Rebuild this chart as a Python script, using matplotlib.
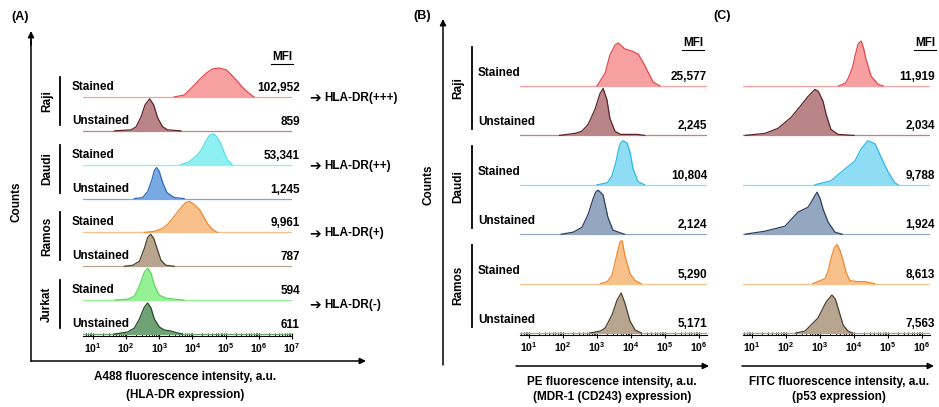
import numpy as np
import matplotlib
matplotlib.use('Agg')
import matplotlib.pyplot as plt
from matplotlib.lines import Line2D
from matplotlib.patches import FancyArrowPatch
from matplotlib.ticker import LogLocator, NullFormatter

plt.rcParams['font.family'] = ['Liberation Sans', 'DejaVu Sans']
plt.rcParams['font.weight'] = 'bold'
plt.rcParams['mathtext.fontset'] = 'custom'
plt.rcParams['mathtext.rm'] = 'Liberation Sans:bold'
plt.rcParams['mathtext.bf'] = 'Liberation Sans:bold'
plt.rcParams['mathtext.it'] = 'Liberation Sans:bold'

W, H = 939, 407
FS = 8.5

# histogram curves: (log10 intensity, relative counts)

# ---- panel A : HLA-DR (A488) ----
cells_a = ['Raji', 'Daudi', 'Ramos', 'Jurkat']
mfi_a = ['102,952', '859', '53,341', '1,245', '9,961', '787', '594', '611']
grade_a = ['HLA-DR(+++)', 'HLA-DR(++)', 'HLA-DR(+)', 'HLA-DR(-)']

a_raji_st = [(3.45, 0), (3.75, 2), (4.0, 10), (4.2, 17), (4.42, 24), (4.6, 28), (4.81, 29),
             (5.02, 27), (5.15, 23), (5.32, 17), (5.47, 11), (5.62, 6), (5.85, 0)]
a_raji_un = [(1.65, 0), (2.15, 1), (2.3, 4), (2.45, 14), (2.57, 26), (2.71, 32), (2.83, 26),
             (2.95, 13), (3.1, 4), (3.25, 1), (3.65, 0)]
a_daudi_st = [(3.65, 0), (3.9, 3), (4.12, 9), (4.25, 14), (4.36, 21), (4.5, 29), (4.61, 31),
              (4.71, 29), (4.81, 24), (4.91, 16), (5.05, 5), (5.2, 0)]
a_daudi_un = [(2.25, 0), (2.5, 1), (2.65, 7), (2.77, 18), (2.85, 28), (2.92, 31), (3.0, 27),
              (3.1, 16), (3.23, 6), (3.45, 1), (3.75, 0)]
a_ramos_st = [(2.55, 0), (2.85, 1), (3.1, 4), (3.25, 8), (3.4, 14), (3.61, 23), (3.8, 30),
              (3.91, 31), (4.05, 28), (4.21, 23), (4.35, 15), (4.45, 9), (4.6, 3), (4.75, 0)]
a_ramos_un = [(1.95, 0), (2.2, 1), (2.4, 5), (2.55, 18), (2.65, 29), (2.74, 32), (2.83, 28),
              (2.93, 18), (3.05, 6), (3.2, 1), (3.45, 0)]
a_jurkat_st = [(1.65, 0), (2.05, 1), (2.25, 4), (2.4, 14), (2.55, 28), (2.65, 32), (2.75, 27),
               (2.85, 15), (3.0, 5), (3.2, 2), (3.45, 1), (3.75, 0)]
a_jurkat_un = [(1.65, 0), (2.05, 2), (2.25, 6), (2.4, 15), (2.55, 27), (2.65, 31), (2.75, 26),
               (2.85, 15), (3.0, 7), (3.15, 4), (3.35, 3), (3.55, 1), (3.7, 0)]

# ---- panel B : MDR-1 (PE) ----
cells_bc = ['Raji', 'Daudi', 'Ramos']
mfi_b = ['25,577', '2,245', '10,804', '2,124', '5,290', '5,171']

b_raji_st = [(3.0, 0), (3.24, 13), (3.38, 31), (3.53, 41), (3.62, 43), (3.82, 37), (4.03, 35),
             (4.21, 32), (4.35, 24), (4.5, 14), (4.65, 4), (4.85, 0)]
b_raji_un = [(1.9, 0), (2.35, 2), (2.55, 4), (2.74, 11), (2.94, 26), (3.09, 42), (3.18, 47),
             (3.29, 36), (3.38, 17), (3.53, 4), (3.7, 1), (4.2, 1), (4.4, 0)]
b_daudi_st = [(3.0, 0), (3.3, 2), (3.44, 9), (3.55, 22), (3.62, 33), (3.68, 41), (3.76, 44),
              (3.88, 42), (3.97, 33), (4.06, 16), (4.21, 3), (4.4, 0)]
b_daudi_un = [(1.95, 0), (2.3, 2), (2.56, 7), (2.74, 20), (2.88, 35), (2.96, 42), (3.03, 44),
              (3.1, 42), (3.18, 39), (3.32, 17), (3.47, 4), (3.8, 0)]
b_ramos_st = [(3.1, 0), (3.3, 2), (3.44, 8), (3.59, 30), (3.68, 42), (3.74, 43), (3.82, 28),
              (3.97, 10), (4.12, 3), (4.3, 0)]
b_ramos_un = [(2.8, 0), (3.1, 2), (3.24, 5), (3.44, 18), (3.59, 33), (3.71, 40), (3.82, 30),
              (3.97, 12), (4.12, 3), (4.3, 0)]

# ---- panel C : p53 (FITC) ----
mfi_c = ['11,919', '2,034', '9,788', '1,924', '8,613', '7,563']

c_raji_st = [(3.55, 0), (3.75, 3), (3.82, 7), (3.95, 18), (4.03, 30), (4.12, 42), (4.21, 45),
             (4.28, 38), (4.35, 27), (4.5, 10), (4.7, 2), (4.85, 0)]
c_raji_un = [(0.8, 0), (1.38, 2), (1.76, 7), (2.15, 18), (2.44, 30), (2.65, 39), (2.85, 46),
             (2.95, 44), (3.09, 34), (3.18, 21), (3.32, 6), (3.53, 1), (4.0, 0)]
c_daudi_st = [(2.85, 0), (3.32, 4), (3.74, 16), (4.03, 24), (4.21, 36), (4.41, 44), (4.62, 41),
              (4.79, 28), (5.0, 13), (5.2, 2), (5.3, 0)]
c_daudi_un = [(0.8, 0), (1.38, 3), (1.97, 8), (2.35, 22), (2.65, 27), (2.79, 35), (2.91, 42),
              (3.0, 36), (3.09, 25), (3.24, 12), (3.44, 2), (3.65, 0)]
c_ramos_st = [(2.79, 0), (3.15, 5), (3.25, 14), (3.32, 25), (3.42, 36), (3.5, 39), (3.58, 34),
              (3.68, 23), (3.78, 10), (3.88, 3), (4.1, 2), (4.32, 2), (4.6, 0)]
c_ramos_un = [(2.29, 0), (2.56, 2), (2.94, 15), (3.18, 31), (3.35, 38), (3.45, 34), (3.53, 25),
              (3.68, 8), (3.82, 2), (3.95, 0)]

# (fill, edge) colours
RED = ('#f7a0a1', '#e8464a')
MAROON = ('#b98588', '#5e2326')
CYAN_A = ('#8ff0f3', '#55e0e8')
BLUE_A = ('#79a9e3', '#2c6cc0')
CYAN = ('#8fdcf5', '#2bb9e6')
SLATE = ('#93a7c0', '#2d3f5c')
ORANGE = ('#f8c08a', '#f0892a')
BROWN = ('#b8a590', '#4f3f2d')
LGREEN = ('#94f194', '#5ad95a')
DGREEN = ('#6fa274', '#234b28')

fig = plt.figure(figsize=(W / 100, H / 100), dpi=100)


def fxy(x, y):
    return x / W, 1 - y / H


def ftext(x, y, s, **kw):
    fig.text(x / W, 1 - y / H, s, **kw)


def fline(xs, ys, **kw):
    fig.add_artist(Line2D([x / W for x in xs], [1 - y / H for y in ys],
                          transform=fig.transFigure, color='black', **kw))


def farrow(x0, y0, x1, y1):
    fig.add_artist(FancyArrowPatch(fxy(x0, y0), fxy(x1, y1), transform=fig.transFigure,
                                   arrowstyle='-|>', mutation_scale=9, lw=1.1,
                                   color='black', shrinkA=0, shrinkB=0))


def draw_panel(x0, x1, axis_y, gap, log_lo, log_hi, decades, curves, colors,
               mfi, mfi_x, header_x, header_y):
    n = len(curves)
    lift = 2
    top_y = 22
    ax = fig.add_axes([x0 / W, 1 - axis_y / H, (x1 - x0) / W, (axis_y - top_y) / H])
    ax.set_xscale('log')
    ax.set_xlim(10 ** log_lo, 10 ** log_hi)
    y0 = -lift / gap
    ax.set_ylim(y0, y0 + (axis_y - top_y) / gap)
    base_px = []
    for i, (curve, (fc, ec)) in enumerate(zip(curves, colors)):
        base = n - 1 - i
        lx = np.array([p[0] for p in curve])
        h = np.array([p[1] for p in curve]) / gap
        ax.axhline(base, color=fc, lw=0.9, zorder=3 * i)
        ax.fill_between(10 ** lx, base, base + h, color=fc, lw=0, zorder=3 * i + 1)
        ax.plot(10 ** lx, base + h, color=ec, lw=0.9, zorder=3 * i + 2)
        py = axis_y - lift - gap * base
        base_px.append(py)
        ftext(mfi_x, py - 9, mfi[i], ha='right', va='center', fontsize=FS)

    ax.set_xticks([10.0 ** k for k in decades])
    ax.set_xticklabels(['$10^{%d}$' % k for k in decades])
    ax.xaxis.set_minor_locator(LogLocator(base=10, subs=np.arange(2, 10), numticks=20))
    ax.xaxis.set_minor_formatter(NullFormatter())
    ax.tick_params(axis='x', which='major', direction='inout', length=5, width=0.8,
                   labelsize=7.5, pad=1)
    ax.tick_params(axis='x', which='minor', direction='in', length=2.5, width=0.6)
    ax.set_yticks([])
    for s in ['top', 'left', 'right']:
        ax.spines[s].set_visible(False)
    ax.spines['bottom'].set_linewidth(0.8)
    ax.patch.set_alpha(0)

    ftext(header_x, header_y, 'MFI', ha='center', va='center', fontsize=FS)
    fline([header_x - 11, header_x + 11], [header_y + 7, header_y + 7], lw=0.8)
    return base_px


def group_labels(base_px, names, bar_x, name_x, label_x, label_dy, bar_top, bar_bot):
    for g, name in enumerate(names):
        ys, yu = base_px[2 * g], base_px[2 * g + 1]
        fline([bar_x, bar_x], [ys - bar_top, yu - bar_bot], lw=1.3)
        ftext(name_x, (ys - bar_top + yu - bar_bot) / 2, name, rotation=90,
              ha='center', va='center', fontsize=FS)
        ftext(label_x, ys - label_dy, 'Stained', ha='left', va='center', fontsize=FS)
        ftext(label_x, yu - label_dy, 'Unstained', ha='left', va='center', fontsize=FS)


# ---------------- panel A ----------------
base_a = draw_panel(83, 292, 336, 33.86, 0.7, 7.0, range(1, 8),
                    [a_raji_st, a_raji_un, a_daudi_st, a_daudi_un,
                     a_ramos_st, a_ramos_un, a_jurkat_st, a_jurkat_un],
                    [RED, MAROON, CYAN_A, BLUE_A, ORANGE, BROWN, LGREEN, DGREEN],
                    mfi_a, 300, 282, 57)
group_labels(base_a, cells_a, 60, 47, 72, 10, 20, 6)
for g, txt in enumerate(grade_a):
    y = base_a[2 * g] + (5 if g == 3 else 1)
    ftext(309, y, '\u2794', ha='left', va='center', fontsize=10, family='DejaVu Sans')
    ftext(324, y, txt, ha='left', va='center', fontsize=FS)
fline([31, 31], [361, 40], lw=1.1)
farrow(31, 45, 31, 31)
farrow(31, 361, 366, 361)
ftext(17, 202, 'Counts', rotation=90, ha='center', va='center', fontsize=FS)
ftext(20, 17, '(A)', ha='center', va='center', fontsize=9)
ftext(185, 377, 'A488 fluorescence intensity, a.u.', ha='center', va='center', fontsize=FS)
ftext(185, 395, '(HLA-DR expression)', ha='center', va='center', fontsize=FS)

# ---------------- panel B ----------------
base_b = draw_panel(520, 707, 335, 49.4, 0.735, 6.235, range(1, 7),
                    [b_raji_st, b_raji_un, b_daudi_st, b_daudi_un, b_ramos_st, b_ramos_un],
                    [RED, MAROON, CYAN, SLATE, ORANGE, BROWN],
                    mfi_b, 707, 693, 43)
group_labels(base_b, cells_bc, 472, 458, 478, 13, 39, 6)
farrow(443, 365, 443, 19)
farrow(516, 366, 709, 366)
ftext(428, 185, 'Counts', rotation=90, ha='center', va='center', fontsize=FS)
ftext(422, 16, '(B)', ha='center', va='center', fontsize=9)
ftext(612, 382, 'PE fluorescence intensity, a.u.', ha='center', va='center', fontsize=FS)
ftext(612, 397, '(MDR-1 (CD243) expression)', ha='center', va='center', fontsize=FS)

# ---------------- panel C ----------------
draw_panel(743, 930, 335, 49.4, 0.735, 6.235, range(1, 7),
           [c_raji_st, c_raji_un, c_daudi_st, c_daudi_un, c_ramos_st, c_ramos_un],
           [RED, MAROON, CYAN, SLATE, ORANGE, BROWN],
           mfi_c, 935, 925, 43)
farrow(742, 366, 934, 366)
ftext(722, 16, '(C)', ha='center', va='center', fontsize=9)
ftext(839, 382, 'FITC fluorescence intensity, a.u.', ha='center', va='center', fontsize=FS)
ftext(839, 397, '(p53 expression)', ha='center', va='center', fontsize=FS)

fig.savefig('out.png', dpi=100)
